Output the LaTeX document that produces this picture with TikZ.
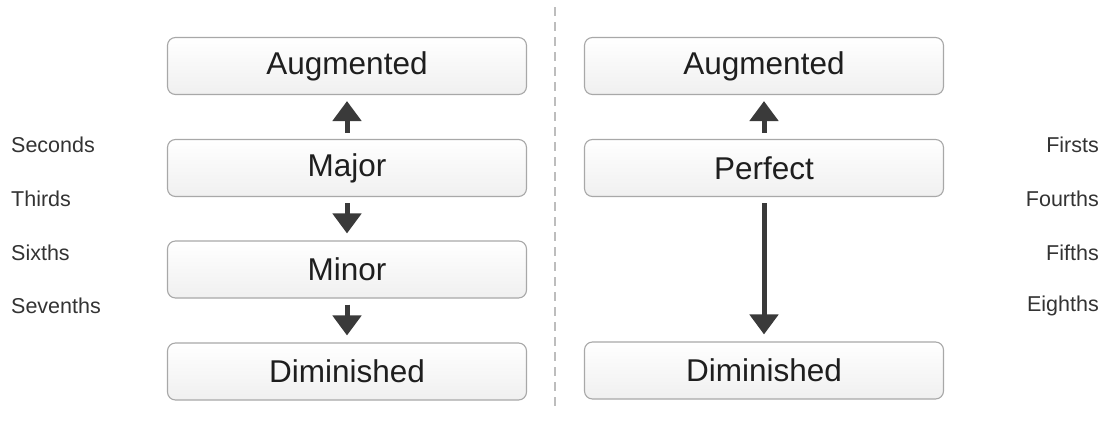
\documentclass[tikz,border=0pt]{standalone}
\usepackage{fontspec}
\setmainfont{Liberation Sans}
\usetikzlibrary{arrows.meta}
\definecolor{boxline}{HTML}{A8A8A8}
\definecolor{arrowc}{HTML}{3A3A3A}
\definecolor{txt}{HTML}{1E1E1E}
\definecolor{lbl}{HTML}{333333}
\definecolor{dashc}{HTML}{BDBDBD}
\tikzset{
  qbox/.style={draw=boxline, line width=1.1pt, rounded corners=8pt,
    top color=white, bottom color=black!6, minimum width=359pt,
    minimum height=57pt, inner sep=0pt, text=txt,
    font=\fontsize{31.5}{36}\selectfont},
  qarrow/.style={draw=arrowc, line width=5pt,
    -{Triangle[width=28pt,length=20pt]}},
  side/.style={text=lbl, font=\fontsize{21.5}{24}\selectfont, inner sep=0pt}
}
\begin{document}
\begin{tikzpicture}[x=1pt,y=-1pt]
\useasboundingbox (0,0) rectangle (1103,431);
% left column
\node[qbox] (la) at (347,66) {Augmented};
\node[qbox] (lmaj) at (347,168) {Major};
\node[qbox] (lmin) at (347,269.5) {Minor};
\node[qbox] (ld) at (347,371.5) {Diminished};
% right column
\node[qbox] (ra) at (764,66) {Augmented};
\node[qbox] (rp) at (764,168) {Perfect};
\node[qbox] (rd) at (764,370.5) {Diminished};
% arrows
\draw[qarrow, shorten <=6pt, shorten >=6pt] (lmaj) -- (la);
\draw[qarrow, shorten <=6pt, shorten >=7pt] (lmaj) -- (lmin);
\draw[qarrow, shorten <=6pt, shorten >=7pt] (lmin) -- (ld);
\draw[qarrow, shorten <=6pt, shorten >=6pt] (rp) -- (ra);
\draw[qarrow, shorten <=6pt, shorten >=7pt] (rp) -- (rd);
% divider
\coordinate (dtop) at (555,7);
\coordinate (dbot) at (555,410);
\draw[dashc, line width=2.6pt, dash pattern=on 9pt off 6pt] (dtop) -- (dbot);
% side labels
\node[side, anchor=west] (s1) at (11,145) {Seconds};
\node[side, anchor=west] (s2) at (11,199) {Thirds};
\node[side, anchor=west] (s3) at (11,253) {Sixths};
\node[side, anchor=west] (s4) at (11,306) {Sevenths};
\node[side, anchor=east] (r1) at (1099,145) {Firsts};
\node[side, anchor=east] (r2) at (1099,199) {Fourths};
\node[side, anchor=east] (r3) at (1099,253) {Fifths};
\node[side, anchor=east] (r4) at (1099,306) {Eighths};
\end{tikzpicture}
\end{document}
